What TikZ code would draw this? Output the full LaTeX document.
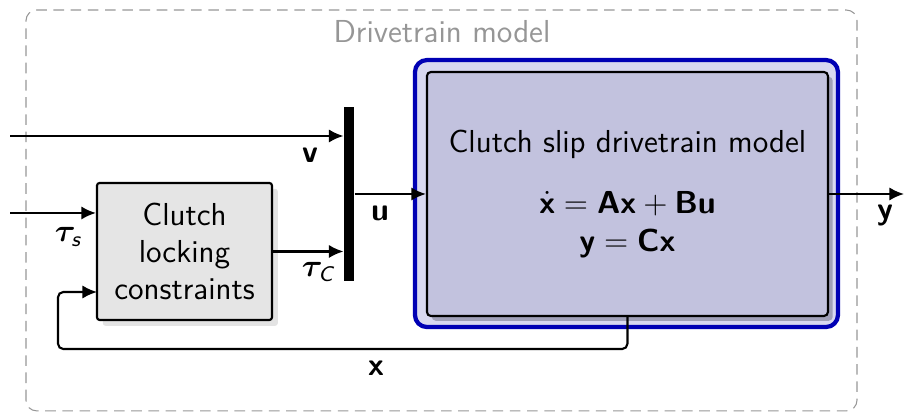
\documentclass[tikz,border=0pt]{standalone}
\usepackage{amsmath,bm}
\usepackage{fontspec}
\usetikzlibrary{arrows.meta,shadows,positioning}

\definecolor{framegray}{RGB}{150,150,150}
\definecolor{blockgray}{RGB}{229,229,229}
\definecolor{modelblue}{RGB}{0,0,180}
\definecolor{modelouter}{RGB}{216,216,240}
\definecolor{modelinner}{RGB}{194,194,222}
\definecolor{modelshadow}{RGB}{160,160,184}

\newcommand{\vecb}[1]{\textsf{\bfseries #1}}

\begin{document}
\begin{tikzpicture}[font=\sffamily\large, >={Latex[length=5.5pt,width=5pt]},
  sig/.style={->,thick},
  frame/.style={draw=framegray, dash pattern=on 4pt off 2.5pt, rounded corners=4pt},
  blk/.style={draw, thick, fill=blockgray, rounded corners=1pt, align=center,
    drop shadow={shadow xshift=2.2pt, shadow yshift=-2.2pt, fill=black!22}},
  outerblk/.style={draw=modelblue, line width=1.6pt, fill=modelouter, rounded corners=4.5pt},
  innerblk/.style={draw, thick, fill=modelinner, rounded corners=1.5pt, align=center,
    drop shadow={shadow xshift=1.8pt, shadow yshift=-1.8pt, fill=modelshadow, opacity=1}},
  lbl/.style={inner sep=1pt}]
  \useasboundingbox (0,0) rectangle (12,5.469);

  % outer frame
  \draw[frame] (0.345,0.015) rectangle (11.376,5.336);
  \node[text=framegray] (title) at (5.867,5.044) {Drivetrain model};

  % blocks
  \node[blk, minimum width=2.323cm, minimum height=1.819cm] (clutch) at (2.449,2.131)
    {Clutch\\locking\\constraints};
  \node[fill=black, inner sep=0pt, minimum width=0.133cm, minimum height=2.310cm] (mux) at (4.633,2.894) {};
  \node[outerblk, minimum width=5.615cm, minimum height=3.544cm] (model) at (8.316,2.900) {};
  \node[innerblk, minimum width=5.323cm, minimum height=3.239cm] (core) at (8.329,2.894)
    {Clutch slip drivetrain model\\[3.2mm]
     $\dot{\vecb{x}}=\vecb{A}\vecb{x}+\vecb{B}\vecb{u}$\\[0.4pt]
     $\vecb{y}=\vecb{C}\vecb{x}$};

  % free ends
  \coordinate (vin) at (0.133,3.664);
  \coordinate (tsin) at (0.133,2.642);
  \coordinate (yout) at (12,2.894);
  \coordinate (fbk) at (0.770,0.836);
  \coordinate (xin) at (1.288,1.593);

  % signals
  \draw[sig] (vin) -- (mux.west |- vin);
  \draw[sig] (tsin) -- (clutch.west |- tsin);
  \draw[sig] (clutch.east) -- (mux.west |- clutch.east);
  \draw[sig] (mux.east) -- (core.west);
  \draw[sig] (core.east) -- (yout);
  \draw[sig, rounded corners=2pt] (core.south) |- (fbk) |- (xin);

  % labels
  \node[lbl] (vlbl) at (4.115,3.411) {$\vecb{v}$};
  \node[lbl] (ulbl) at (5.044,2.642) {$\vecb{u}$};
  \node[lbl] (tslbl) at (0.903,2.323) {$\bm{\tau}_{\textsf{\itshape s}}$};
  \node[lbl] (tclbl) at (4.221,1.860) {$\bm{\tau}_{\textsf{\itshape C}}$};
  \node[lbl] (xlbl) at (4.991,0.584) {$\vecb{x}$};
  \node[lbl] (ylbl) at (11.748,2.615) {$\vecb{y}$};
\end{tikzpicture}
\end{document}
